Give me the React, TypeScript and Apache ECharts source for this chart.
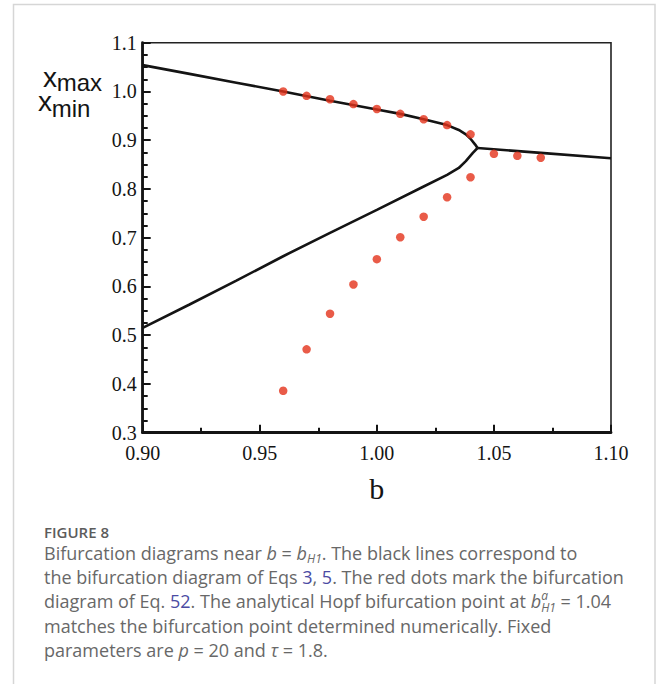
import React, { useEffect, useRef } from "react";
import * as echarts from "echarts";

// Continuation branches of Eqs 3, 5 (b, x)
const upperB = [0.9, 0.92, 0.94, 0.96, 0.98, 1.0, 1.01, 1.02, 1.03, 1.035, 1.038, 1.04, 1.042, 1.043];
const upperX = [1.054, 1.036, 1.018, 1.0, 0.981, 0.963, 0.954, 0.943, 0.931, 0.921, 0.912, 0.903, 0.891, 0.884];
const lowerB = [0.9, 0.92, 0.94, 0.96, 0.98, 1.0, 1.02, 1.03, 1.035, 1.038, 1.041, 1.043];
const lowerX = [0.515, 0.563, 0.612, 0.662, 0.71, 0.757, 0.805, 0.829, 0.843, 0.857, 0.874, 0.884];
const steadyB = [1.043, 1.07, 1.1];
const steadyX = [0.884, 0.874, 0.863];

// Red dots from Eq. 52
const dotB = [0.96, 0.97, 0.98, 0.99, 1.0, 1.01, 1.02, 1.03, 1.04];
const dotMax = [1.0, 0.991, 0.984, 0.974, 0.964, 0.954, 0.943, 0.931, 0.912];
const dotMin = [0.386, 0.471, 0.544, 0.604, 0.656, 0.701, 0.743, 0.783, 0.824];
const dotSteadyB = [1.05, 1.06, 1.07];
const dotSteadyX = [0.872, 0.868, 0.864];

const xTicks = { min: 0.9, max: 1.1, step: 0.05 };
const yTicks = { min: 0.3, max: 1.1, step: 0.1 };

const zip = (a: number[], b: number[]) => a.map((v, i) => [v, b[i]]);

const INK = "#141414";
const DOT = "#e3321a";
const SERIF = "'Liberation Serif', 'Times New Roman', serif";
const SANS = "'Liberation Sans', Arial, sans-serif";
const CAPTION = "'Open Sans', sans-serif";
const CAPTION_INK = "#686868";

export default function App() {
  const ref = useRef<HTMLDivElement>(null);

  useEffect(() => {
    if (!ref.current) return;
    const chart = echarts.init(ref.current, undefined, { renderer: "svg" });

    const lineSeries = (data: number[][]) => ({
      type: "line",
      data,
      showSymbol: false,
      symbol: "none",
      lineStyle: { color: INK, width: 2.6 },
      z: 3,
    });
    const dotSeries = (data: number[][]) => ({
      type: "scatter",
      data,
      symbol: "circle",
      symbolSize: 8.5,
      itemStyle: { color: DOT },
      z: 4,
    });

    const axisCommon = {
      type: "value",
      axisLine: { show: true, onZero: false, lineStyle: { color: INK, width: 2.8 } },
      axisTick: { show: true, inside: true, length: 8, lineStyle: { color: INK, width: 2 } },
      splitLine: { show: false },
    };

    const capText =
      "Bifurcation diagrams near {i|b} = {i|b}{sub|H1}. The black lines correspond to\n" +
      "the bifurcation diagram of Eqs {link|3}, {link|5}. The red dots mark the bifurcation\n" +
      "diagram of Eq. {link|52}. The analytical Hopf bifurcation point at {i|b}{sup|a}{sub|H1} = 1.04\n" +
      "matches the bifurcation point determined numerically. Fixed\n" +
      "parameters are {i|p} = 20 and {i|τ} = 1.8.";

    const base = { fontFamily: CAPTION, fontSize: 18, lineHeight: 24.3, fill: CAPTION_INK };
    const small = { fontFamily: CAPTION, fontSize: 12, lineHeight: 11, fontStyle: "italic", fill: CAPTION_INK };

    chart.setOption({
      animation: false,
      backgroundColor: "#ffffff",
      grid: {
        left: 142.7,
        right: 47,
        top: 42.7,
        bottom: 251.3,
        show: true,
        borderColor: "#222222",
        borderWidth: 1.6,
        containLabel: false,
      },
      xAxis: {
        ...axisCommon,
        min: xTicks.min,
        max: xTicks.max,
        interval: xTicks.step,
        minorTick: { show: true, splitNumber: 2, length: 5, lineStyle: { color: INK, width: 2 } },
        axisLabel: {
          margin: 10,
          fontFamily: SERIF,
          fontSize: 20,
          color: INK,
          formatter: (v: number) => v.toFixed(2),
        },
        name: "b",
        nameLocation: "middle",
        nameGap: 56,
        nameTextStyle: { fontFamily: SERIF, fontSize: 30, color: INK, verticalAlign: "middle" },
      },
      yAxis: {
        ...axisCommon,
        min: yTicks.min,
        max: yTicks.max,
        interval: yTicks.step,
        minorTick: { show: true, splitNumber: 4, length: 5, lineStyle: { color: INK, width: 2 } },
        axisLabel: {
          margin: 6,
          fontFamily: SERIF,
          fontSize: 20,
          color: INK,
          formatter: (v: number) => v.toFixed(1),
        },
      },
      series: [
        lineSeries(zip(upperB, upperX)),
        lineSeries(zip(lowerB, lowerX)),
        lineSeries(zip(steadyB, steadyX)),
        dotSeries(zip(dotB, dotMax)),
        dotSeries(zip(dotB, dotMin)),
        dotSeries(zip(dotSteadyB, dotSteadyX)),
      ],
      graphic: [
        {
          type: "rect",
          shape: { x: 13.5, y: 4.5, width: 641.5, height: 720 },
          style: { fill: "none", stroke: "#d6d6d6", lineWidth: 1.5 },
          silent: true,
          z: 0,
        },
        // y-axis title: x_max / x_min
        { type: "text", x: 43, y: 77.6, style: { text: "x", fontFamily: SANS, fontSize: 28, lineHeight: 18, fill: INK, verticalAlign: "middle" } },
        { type: "text", x: 56.7, y: 82.4, style: { text: "max", fontFamily: SANS, fontSize: 24, lineHeight: 16, fill: INK, verticalAlign: "middle" } },
        { type: "text", x: 38, y: 101, style: { text: "x", fontFamily: SANS, fontSize: 28, lineHeight: 18, fill: INK, verticalAlign: "middle" } },
        { type: "text", x: 51.7, y: 108.4, style: { text: "min", fontFamily: SANS, fontSize: 24, lineHeight: 16, fill: INK, verticalAlign: "middle" } },
        // caption
        {
          type: "text",
          x: 44,
          y: 531.5,
          style: {
            text: "FIGURE 8",
            fontFamily: CAPTION,
            fontSize: 15,
            lineHeight: 14,
            fontWeight: 600,
            fill: "#5c5c5c",
            verticalAlign: "middle",
          },
        },
        {
          type: "text",
          x: 44,
          y: 540.5,
          style: {
            ...base,
            text: capText,
            verticalAlign: "top",
            rich: {
              i: { ...base, fontStyle: "italic" },
              link: { ...base, fill: "#4b4ba3" },
              sub: { ...small, verticalAlign: "bottom" },
              sup: { ...small, verticalAlign: "top", width: 0 },
            },
          },
        },
      ],
    });

    return () => chart.dispose();
  }, []);

  return (
    <div
      ref={ref}
      style={{ position: "absolute", left: 0, top: 0, width: 658, height: 684, background: "#fff" }}
    />
  );
}
